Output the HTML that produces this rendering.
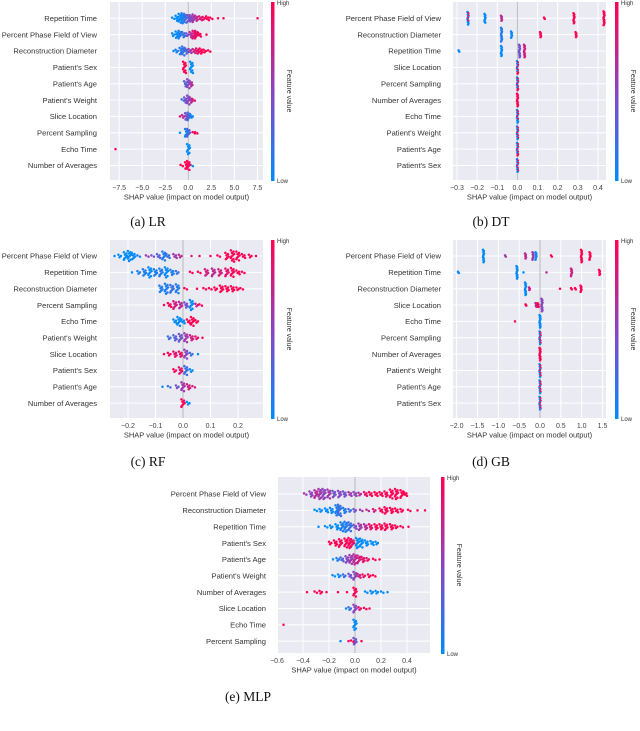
<!DOCTYPE html>
<html><head><meta charset="utf-8"><style>
html,body{margin:0;padding:0;background:#fff;}
svg text{font-family:"Liberation Sans","DejaVu Sans",sans-serif;}
</style></head><body>
<svg id="fig" width="640" height="726" viewBox="0 0 640 726" xmlns="http://www.w3.org/2000/svg">
<defs><linearGradient id="cbg" x1="0" y1="1" x2="0" y2="0"><stop offset="0" stop-color="#008bfb"/><stop offset="0.5" stop-color="#8a45c0"/><stop offset="1" stop-color="#ff0052"/></linearGradient></defs>
</svg>
<script>
// ---- Panel (a) LR ----
const featA = ["Repetition Time","Percent Phase Field of View","Reconstruction Diameter","Patient's Sex","Patient's Age","Patient's Weight","Slice Location","Percent Sampling","Echo Time","Number of Averages"];
const ticksA = [-7.5,-5.0,-2.5,0.0,2.5,5.0,7.5];
const valsA = [
[[-1.6,0,2],[-1.2,0,5],[-0.9,0,8],[-0.6,0.1,9],[-0.3,0.2,8],[0,0.4,6],[0.3,0.5,6],[0.6,0.6,7],[0.9,0.7,5],[1.3,0.85,4],[1.7,0.95,3],[2.1,1,4],[2.5,1,2],[3.2,1,1],[3.8,1,1],[7.5,1,1]],
[[-1.6,0,3],[-1.2,0,6],[-0.9,0.1,7],[-0.5,0.2,5],[-0.1,0.4,3],[0.3,0.7,5],[0.6,0.85,7],[0.9,0.9,7],[1.2,1,4],[2,1,1]],
[[-1.6,0,1],[-1.2,0.1,3],[-0.8,0.1,6],[-0.5,0.2,8],[-0.2,0.3,5],[0.2,0.6,4],[0.6,0.8,4],[1,0.9,5],[1.4,1,5],[1.8,1,3],[2.3,1,2]],
[[-0.4,1,10],[0.35,0,10]],
[[-0.3,0.3,5],[0,0.5,8],[0.3,0.7,5]],
[[-0.6,0.2,2],[-0.3,0.4,5],[0,0.5,8],[0.3,0.7,5],[0.6,0.9,2]],
[[-0.9,0.9,1],[-0.5,0.7,3],[-0.2,0.4,6],[0.1,0.2,7],[0.4,0,3]],
[[-0.9,0,1],[-0.2,0,7],[0,0.3,7],[0.6,1,2],[0.9,1,2]],
[[-7.9,1,1],[0,0,9]],
[[-0.7,1,2],[-0.2,1,6],[0,1,8],[0.4,0,2]]
];
// ---- Panel (b) DT ----
const featB = ["Percent Phase Field of View","Reconstruction Diameter","Repetition Time","Slice Location","Percent Sampling","Number of Averages","Echo Time","Patient's Weight","Patient's Age","Patient's Sex"];
const ticksB = [-0.3,-0.2,-0.1,0.0,0.1,0.2,0.3,0.4];
const valsB = [
[[-0.245,0,7],[-0.245,1,4],[-0.16,0,8],[-0.08,0.7,5],[0.135,1,2],[0.28,1,9],[0.43,1,12]],
[[-0.08,0.1,12],[-0.03,0,6],[0.115,1,5],[0.29,1,5]],
[[-0.29,0,2],[-0.08,0,9],[0.01,0.4,11],[0.035,0.8,11]],
[[0,0,5],[0,1,6]],[[0,0,5],[0,1,6]],[[0,1,11]],[[0,0,7],[0,1,4]],[[0,0,6],[0,1,5]],[[0,0,5],[0,1,6]],[[0,0,6],[0,1,5]]
];
// ---- Panel (c) RF ----
const featC = ["Percent Phase Field of View","Repetition Time","Reconstruction Diameter","Percent Sampling","Echo Time","Patient's Weight","Slice Location","Patient's Sex","Patient's Age","Number of Averages"];
const ticksC = [-0.2,-0.1,0.0,0.1,0.2];
const valsC = [
[[-0.25,0,1],[-0.23,0,3],[-0.21,0,7],[-0.195,0,9],[-0.18,0,6],[-0.16,0.1,2],[-0.13,0.6,2],[-0.11,0.4,2],[-0.09,0.3,4],[-0.07,0.1,8],[-0.055,0.2,4],[-0.03,0.6,4],[-0.01,0.7,3],[0.03,0.8,1],[0.06,0.9,1],[0.1,1,1],[0.13,1,2],[0.16,1,6],[0.18,1,10],[0.2,1,8],[0.22,1,4],[0.245,1,3],[0.265,1,1]],
[[-0.185,0,1],[-0.16,0.1,3],[-0.14,0.1,6],[-0.12,0,9],[-0.1,0.1,6],[-0.08,0.1,7],[-0.06,0,9],[-0.04,0.1,5],[-0.02,0.2,3],[0.03,1,2],[0.06,1,2],[0.085,0.8,6],[0.11,0.7,7],[0.135,0.8,6],[0.16,0.9,7],[0.18,1,8],[0.2,1,4],[0.22,1,2]],
[[-0.08,0.1,6],[-0.06,0.1,9],[-0.04,0.2,7],[-0.02,0.1,8],[0.01,1,2],[0.05,1,1],[0.08,1,2],[0.1,1,2],[0.12,1,3],[0.14,1,6],[0.16,1,5],[0.18,1,5],[0.2,1,3],[0.215,1,2]],
[[-0.07,1,1],[-0.05,1,4],[-0.03,0.8,7],[-0.01,0.7,6],[0.01,0.4,5],[0.03,0,9],[0.05,0.8,3],[0.065,1,2]],
[[-0.03,0,4],[-0.015,0,8],[0,0,4],[0.02,1,4],[0.035,1,8],[0.05,1,3]],
[[-0.05,0.2,3],[-0.03,0.3,5],[-0.01,0.4,7],[0.01,0.6,8],[0.03,0.8,5],[0.05,0.9,3],[0.07,1,1]],
[[-0.07,1,1],[-0.05,1,3],[-0.03,0.9,5],[-0.01,0.9,5],[0.01,0.5,8],[0.03,0.2,3],[0.055,0,1]],
[[-0.03,1,3],[-0.01,0.9,6],[0.01,0.2,8],[0.03,0,3]],
[[-0.075,0,1],[-0.05,0.2,2],[-0.02,0.4,3],[0,0.6,8],[0.02,0.8,5],[0.04,0.8,2]],
[[0,1,7],[0.02,0,3]]
];
// ---- Panel (d) GB ----
const featD = ["Percent Phase Field of View","Repetition Time","Reconstruction Diameter","Slice Location","Echo Time","Percent Sampling","Number of Averages","Patient's Weight","Patient's Age","Patient's Sex"];
const ticksD = [-2.0,-1.5,-1.0,-0.5,0.0,0.5,1.0,1.5];
const valsD = [
[[-1.35,0,11],[-0.83,0.6,2],[-0.35,0.7,5],[-0.17,0.6,7],[-0.1,0,7],[0.28,1,2],[1.0,1,11],[1.2,1,7]],
[[-1.95,0,2],[-0.55,0,11],[-0.4,0,1],[0.15,0.7,1],[0.75,0.8,7],[1.43,1,5]],
[[-0.35,0,11],[-0.25,0.8,3],[0.48,1,1],[0.75,1,2],[0.85,1,2],[0.98,1,6]],
[[-0.33,1,2],[-0.1,0.7,4],[-0.05,1,4],[0.05,0.5,11]],
[[-0.6,1,1],[0,0,11]],
[[0,0,6],[0,1,5]],[[0,1,11]],[[0,0,6],[0,1,5]],[[0,0,6],[0,1,5]],[[0,0,6],[0,1,5]]
];
// ---- Panel (e) MLP ----
const featE = ["Percent Phase Field of View","Reconstruction Diameter","Repetition Time","Patient's Sex","Patient's Age","Patient's Weight","Number of Averages","Slice Location","Echo Time","Percent Sampling"];
const ticksE = [-0.6,-0.4,-0.2,0.0,0.2,0.4];
const valsE = [
[[-0.38,0.6,2],[-0.34,0.5,5],[-0.3,0.7,7],[-0.27,0.6,9],[-0.24,0.5,9],[-0.2,0.6,8],[-0.16,0.4,6],[-0.12,0.5,6],[-0.08,0.4,5],[-0.04,0.6,4],[0,0.5,4],[0.04,0.7,3],[0.08,0.9,4],[0.12,1,4],[0.16,1,4],[0.2,1,4],[0.24,1,5],[0.28,1,8],[0.32,1,9],[0.36,1,7],[0.39,1,4]],
[[-0.3,0,2],[-0.26,0,3],[-0.22,0,4],[-0.18,0,5],[-0.14,0.1,9],[-0.12,0.2,10],[-0.08,0.1,5],[-0.04,0.2,3],[0,0.4,3],[0.05,0.6,2],[0.1,0.7,2],[0.15,0.8,3],[0.2,1,4],[0.24,1,6],[0.28,1,5],[0.32,1,4],[0.36,1,3],[0.42,1,2],[0.48,1,1],[0.54,1,1]],
[[-0.28,0,1],[-0.22,0,2],[-0.18,0,3],[-0.14,0,5],[-0.1,0.1,8],[-0.07,0.1,9],[-0.04,0.2,8],[0,0.4,4],[0.04,0.6,6],[0.08,0.7,5],[0.12,0.9,5],[0.16,1,5],[0.2,1,5],[0.24,1,6],[0.28,1,5],[0.32,1,3],[0.36,1,2],[0.41,1,1]],
[[-0.19,1,3],[-0.15,1,5],[-0.11,1,7],[-0.07,1,8],[-0.04,1,9],[-0.02,0.9,7],[0.02,0,9],[0.05,0,8],[0.09,0,5],[0.13,0,4],[0.17,0,3]],
[[-0.17,0,1],[-0.13,0.1,3],[-0.1,0.3,4],[-0.06,0.5,6],[-0.03,0.6,8],[0,0.7,9],[0.03,0.8,7],[0.06,0.9,5],[0.1,0.9,3],[0.15,1,2],[0.19,1,1]],
[[-0.16,0,2],[-0.12,0,3],[-0.08,0.2,3],[-0.04,0.4,4],[0,0.5,7],[0.03,0.8,4],[0.07,0.9,3],[0.11,1,3],[0.15,1,2]],
[[-0.37,1,1],[-0.3,1,2],[-0.26,1,3],[-0.22,1,1],[-0.13,1,1],[-0.06,1,1],[0,1,8],[0.09,0,2],[0.13,0,3],[0.17,0,3],[0.21,0,2],[0.25,0,1]],
[[-0.07,0,1],[-0.04,0.2,3],[0,0.5,7],[0.04,0.9,3],[0.08,1,2],[0.11,1,1]],
[[-0.55,1,1],[0,0,9]],
[[-0.11,0,1],[-0.05,1,1],[-0.02,1,2],[0,0.4,6],[0.05,1,1]]
];

const NS="http://www.w3.org/2000/svg";
const svg=document.getElementById('fig');
const JIT=[-1,0.6,-0.3,1,0.1,-0.7];
function mk(tag,attrs,parent){const e=document.createElementNS(NS,tag);for(const k in attrs)e.setAttribute(k,attrs[k]);(parent||svg).appendChild(e);return e;}
function col(f){const a=[0,139,251],m=[138,69,192],b=[255,0,82];let c;
 if(f<0.5){const t=f*2;c=a.map((v,i)=>Math.round(v+(m[i]-v)*t));}else{const t=(f-0.5)*2;c=m.map((v,i)=>Math.round(v+(b[i]-v)*t));}
 return `rgb(${c[0]},${c[1]},${c[2]})`;}

function panel(cfg){
 const g=mk('g',{});
 
 
 const {x0,x1,y0,y1,zero,scale,row0,rowStep,feats,ticks,vals,labelX,cbX,cap,capX,capY,tickFmt,jit}=cfg;
 const X=v=>zero+v*scale;
 const Y=i=>row0+i*rowStep;
 const bg=mk('rect',{x:x0,y:y0,width:x1-x0,height:y1-y0,fill:'#eaeaf2'},g);
 
 ticks.forEach(t=>{mk('line',{x1:X(t),x2:X(t),y1:y0,y2:y1,stroke:'#fff','stroke-width':1},g);});
 feats.forEach((f,i)=>{mk('line',{x1:x0,x2:x1,y1:Y(i),y2:Y(i),stroke:'#fff','stroke-width':1},g);});
 mk('line',{x1:X(0),x2:X(0),y1:y0,y2:y1,stroke:'#bbb','stroke-width':1},g);
 feats.forEach((f,i)=>{const t=mk('text',{x:labelX,y:Y(i)+2.7,'font-size':7.6,fill:'#333','text-anchor':'end'},g);t.textContent=f;
  });
 ticks.forEach(t=>{const e=mk('text',{x:X(t),y:y1+10,'font-size':7,fill:'#444','text-anchor':'middle'},g);
  e.textContent=(t<0?'\u2212':'')+Math.abs(t).toFixed(tickFmt);
  });
 const xl=mk('text',{x:(x0+x1)/2,y:y1+19.5,'font-size':7.5,fill:'#333','text-anchor':'middle'},g);
 xl.textContent='SHAP value (impact on model output)';
 
 vals.forEach((row,i)=>{
  const groups={};
  row.forEach(([v,c,n])=>{const px=Math.round(X(v)*2)/2;(groups[px]=groups[px]||[]).push([c,n]);});
  Object.keys(groups).forEach(px=>{
   const entries=groups[px].map(e=>({c:e[0],n:e[1]}));
   const cols=[];let left=true;
   while(left){left=false;entries.forEach(e=>{if(e.n>0){cols.push(e.c);e.n--;left=true;}});}
   const N=cols.length;
   cols.forEach((c,k)=>{const off=(k-(N-1)/2)*1.25;
    const dx=N>1?JIT[k%6]*jit:0;
    const d=mk('circle',{cx:+px+dx,cy:Y(i)+off,r:1.25,fill:col(c)},g);
    });
  });
 });
 const cb=mk('rect',{x:cbX,y:y0,width:3.5,height:y1-y0+1,fill:'url(#cbg)'},g);
 
 const hi=mk('text',{x:cbX+6,y:y0+3,'font-size':6,fill:'#333'},g);hi.textContent='High';
 
 const lo=mk('text',{x:cbX+6,y:y1+3,'font-size':6,fill:'#333'},g);lo.textContent='Low';
 
 const fx=cbX+16,fy=(y0+y1)/2;
 const fv=mk('text',{x:fx,y:fy,'font-size':7,fill:'#333','text-anchor':'middle',transform:`rotate(90 ${fx} ${fy})`},g);
 fv.textContent='Feature value';
 
 const cp=mk('text',{x:capX,y:capY,'font-size':13.5,fill:'#111','text-anchor':'middle',style:'font-family:"Liberation Serif",serif'},g);
 cp.textContent=cap;
 
}

panel({name:'panel-lr',x0:110,x1:263,y0:2,y1:180,zero:188.3,scale:9.22,row0:18.3,rowStep:16.35,feats:featA,ticks:ticksA,vals:valsA,labelX:97,cbX:271,cap:'(a) LR',capX:148,capY:226,tickFmt:1,jit:1.4});
panel({name:'panel-dt',x0:453,x1:606,y0:2,y1:180,zero:517.4,scale:201.4,row0:18.3,rowStep:16.35,feats:featB,ticks:ticksB,vals:valsB,labelX:441,cbX:615,cap:'(b) DT',capX:491,capY:226,tickFmt:1,jit:0.5});
panel({name:'panel-rf',x0:110,x1:263,y0:240,y1:418,zero:183,scale:275,row0:256,rowStep:16.35,feats:featC,ticks:ticksC,vals:valsC,labelX:97,cbX:271,cap:'(c) RF',capX:148,capY:466,tickFmt:1,jit:1.6});
panel({name:'panel-gb',x0:453,x1:606,y0:240,y1:418,zero:540,scale:41.7,row0:256,rowStep:16.35,feats:featD,ticks:ticksD,vals:valsD,labelX:441,cbX:615,cap:'(d) GB',capX:491,capY:466,tickFmt:1,jit:0.5});
panel({name:'panel-mlp',x0:278,x1:430,y0:477,y1:653,zero:355,scale:130,row0:494,rowStep:16.35,feats:featE,ticks:ticksE,vals:valsE,labelX:266,cbX:441,cap:'(e) MLP',capX:248,capY:701,tickFmt:1,jit:1.5});
</script>
</body></html>
